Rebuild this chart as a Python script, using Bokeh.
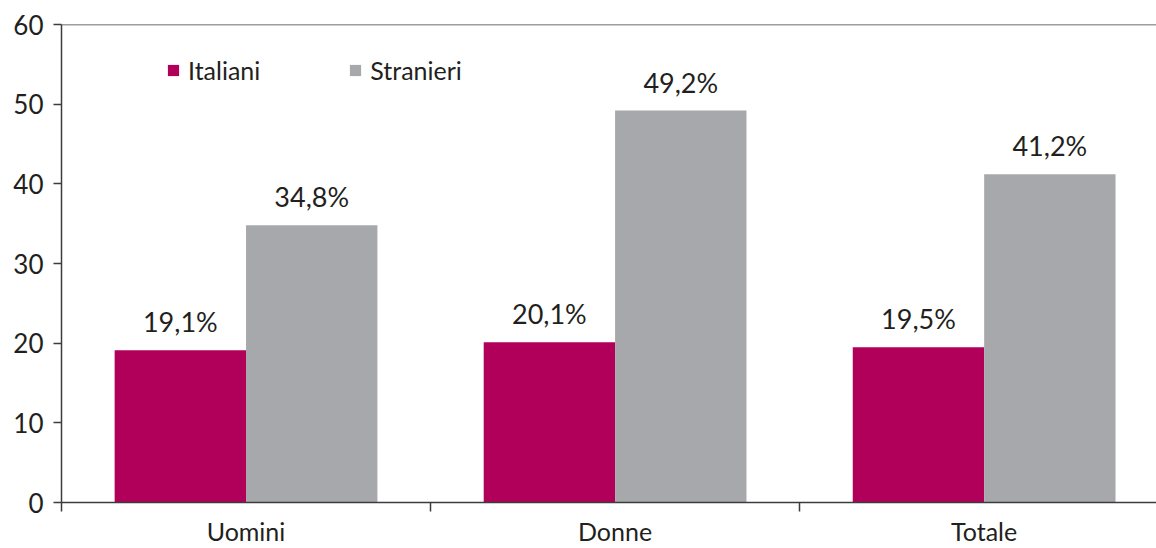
from bokeh.plotting import figure
from bokeh.models import ColumnDataSource, FixedTicker, Span, Legend, LegendItem, LabelSet, Range1d
from bokeh.core.properties import value
from bokeh.embed import file_html
from bokeh.resources import INLINE

categories = ["Uomini", "Donne", "Totale"]
italiani = [19.1, 20.1, 19.5]
stranieri = [34.8, 49.2, 41.2]
y_ticks = [0, 10, 20, 30, 40, 50, 60]

FONT = "Lato"
TXT = "#231f20"
C_IT = "#b1005a"
C_ST = "#a7a8ab"
AX = "#3c3c3c"
BW = 0.356

centers = [i + 0.5 for i in range(len(categories))]
src_it = ColumnDataSource(dict(x=[c - BW / 2 for c in centers], top=italiani,
                               lab=[f"{v:.1f}%".replace(".", ",") for v in italiani]))
src_st = ColumnDataSource(dict(x=[c + BW / 2 for c in centers], top=stranieri,
                               lab=[f"{v:.1f}%".replace(".", ",") for v in stranieri]))

p = figure(width=1156, height=548, output_backend="svg", toolbar_location=None,
           x_range=Range1d(0, 2.967), y_range=Range1d(0, 60),
           min_border_left=61, min_border_right=0, min_border_top=24, min_border_bottom=45)
p.outline_line_color = None
p.grid.visible = False
p.background_fill_color = "white"

r_it = p.vbar(x="x", top="top", width=BW, bottom=0, source=src_it, fill_color=C_IT, line_color=None)
r_st = p.vbar(x="x", top="top", width=BW, bottom=0, source=src_st, fill_color=C_ST, line_color=None)

for src in (src_it, src_st):
    p.add_layout(LabelSet(x="x", y="top", text="lab", source=src, text_align="center",
                          text_baseline="alphabetic", y_offset=18, text_font=value(FONT),
                          text_font_size=value("27px"), text_color=TXT))

p.add_layout(Span(location=60, dimension="width", line_color=AX, line_width=1.5))

# y axis
p.yaxis.ticker = FixedTicker(ticks=y_ticks)
p.yaxis.axis_line_color = AX
p.yaxis.axis_line_width = 1.5
p.yaxis.major_tick_in = 0
p.yaxis.major_tick_out = 8
p.yaxis.major_tick_line_color = AX
p.yaxis.major_tick_line_width = 1.5
p.yaxis.minor_tick_line_color = None
p.yaxis.major_label_text_font = FONT
p.yaxis.major_label_text_font_size = "26px"
p.yaxis.major_label_text_color = TXT
p.yaxis.major_label_standoff = 10

# x axis
p.xaxis.ticker = FixedTicker(ticks=centers, minor_ticks=[0, 1, 2, 3])
p.xaxis.major_label_overrides = {c: n for c, n in zip(centers, categories)}
p.xaxis.axis_line_color = AX
p.xaxis.axis_line_width = 1.5
p.xaxis.major_tick_line_color = None
p.xaxis.major_tick_in = 0
p.xaxis.major_tick_out = 0
p.xaxis.minor_tick_in = 0
p.xaxis.minor_tick_out = 9
p.xaxis.minor_tick_line_color = AX
p.xaxis.minor_tick_line_width = 1.5
p.xaxis.major_label_text_font = FONT
p.xaxis.major_label_text_font_size = "25px"
p.xaxis.major_label_text_color = TXT
p.xaxis.major_label_standoff = 4

legend = Legend(items=[LegendItem(label="Italiani", renderers=[r_it]),
                       LegendItem(label="Stranieri", renderers=[r_st])],
                orientation="horizontal", location=(105, 417),
                glyph_width=14, glyph_height=14, label_standoff=8, spacing=88,
                label_text_font=FONT, label_text_font_size="25px", label_text_color=TXT,
                background_fill_alpha=0, border_line_color=None, padding=0, margin=0)
p.add_layout(legend)

open("out.html", "w").write(file_html(p, INLINE))
